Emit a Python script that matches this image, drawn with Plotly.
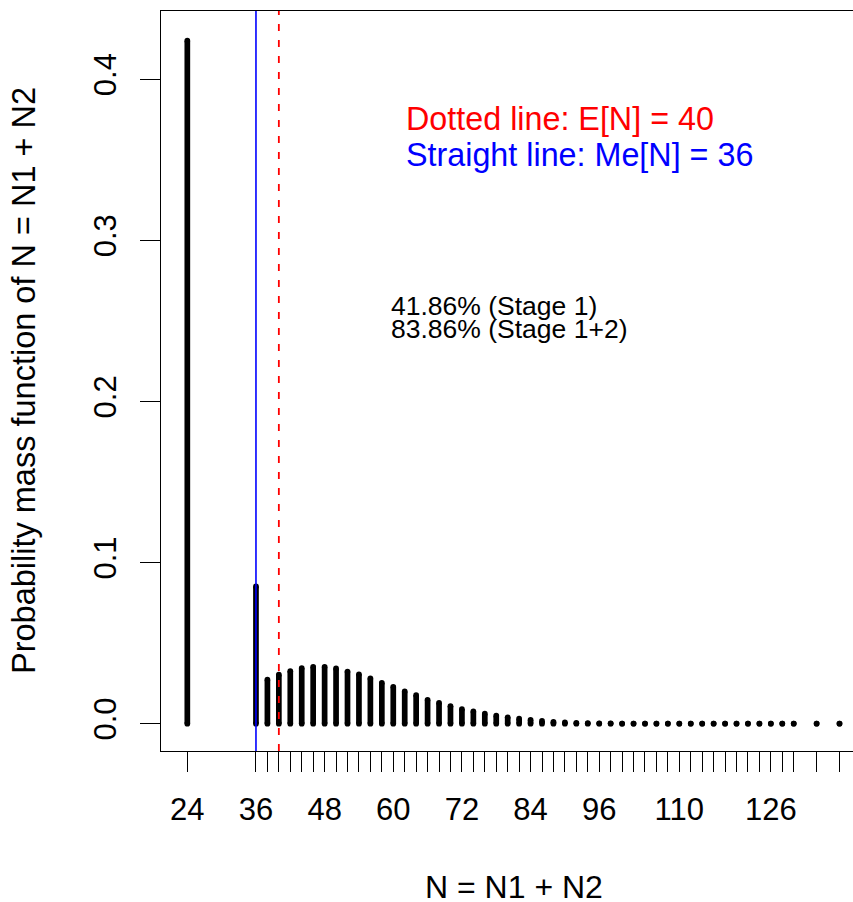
import plotly.graph_objects as go

# Support of N = N1 + N2 and its probability mass function
n_values = [24, 36] + list(range(38, 131, 2)) + [134, 138]
pmf = [0.4240, 0.0852,
       0.0273, 0.0304, 0.0326, 0.0345, 0.0353, 0.0353, 0.0343, 0.0324, 0.0307, 0.0281,
       0.0254, 0.0229, 0.0200, 0.0177, 0.0148, 0.0130, 0.0109, 0.0090, 0.0076, 0.0062,
       0.0050, 0.0040, 0.0031, 0.0024, 0.0017, 0.0012, 0.0008, 0.0005, 0.0003, 0.0002,
       0.0002, 0.0001, 0.0001, 0.0001, 0.0001, 0.0001, 0.0001, 0.0001, 0.0001, 0.0001,
       0.0001, 0.0001, 0.0001, 0.0001, 0.0001, 0.0001, 0.0001, 0.0001]
pmf = pmf[:len(n_values)] + [0.0001] * (len(n_values) - len(pmf))

x_tick_labels = {24: "24", 36: "36", 48: "48", 60: "60", 72: "72", 84: "84",
                 96: "96", 110: "110", 126: "126"}
y_tick_vals = [0.0, 0.1, 0.2, 0.3, 0.4]
y_tick_text = ["0.0", "0.1", "0.2", "0.3", "0.4"]

mean_n = 40
median_n = 36
stage1 = "41.86%"
stage12 = "83.86%"

FONT = "Liberation Sans, Arial, Helvetica, sans-serif"

xs, ys = [], []
for n, p in zip(n_values, pmf):
    xs += [n, n, None]
    ys += [0, p, None]

fig = go.Figure()
fig.add_trace(go.Scatter(
    x=xs, y=ys, mode="lines+markers",
    line=dict(color="black", width=5.7),
    marker=dict(color="black", size=5.7, line=dict(width=0)),
    hoverinfo="skip", showlegend=False))

fig.add_shape(type="line", xref="x", yref="paper", x0=median_n, x1=median_n, y0=0, y1=1,
              line=dict(color="blue", width=1.6))
fig.add_shape(type="line", xref="x", yref="paper", x0=mean_n, x1=mean_n, y0=0, y1=1,
              line=dict(color="red", width=1.8, dash="7px,9px"))

fig.add_annotation(x=61.9, y=0.3751, xref="x", yref="y", xanchor="left", yanchor="middle",
                   text=f"Dotted line: E[N] = {mean_n}", showarrow=False,
                   font=dict(family=FONT, size=32.3, color="red"))
fig.add_annotation(x=61.9, y=0.3530, xref="x", yref="y", xanchor="left", yanchor="middle",
                   text=f"Straight line: Me[N] = {median_n}", showarrow=False,
                   font=dict(family=FONT, size=32.3, color="blue"))
fig.add_annotation(x=59.2, y=0.2593, xref="x", yref="y", xanchor="left", yanchor="middle",
                   text=f"{stage1} (Stage 1)", showarrow=False,
                   font=dict(family=FONT, size=26.5, color="black"))
fig.add_annotation(x=59.2, y=0.2450, xref="x", yref="y", xanchor="left", yanchor="middle",
                   text=f"{stage12} (Stage 1+2)", showarrow=False,
                   font=dict(family=FONT, size=26.5, color="black"))

# axis titles
fig.add_annotation(x=0.5098, y=0, xref="paper", yref="paper", xanchor="center", yanchor="middle",
                   yshift=-136, text="N = N1 + N2", showarrow=False,
                   font=dict(family=FONT, size=32, color="black"))
fig.add_annotation(x=0, y=0.5, xref="paper", yref="paper", xanchor="center", yanchor="middle",
                   xshift=-137, textangle=-90, text="Probability mass function of N = N1 + N2",
                   showarrow=False, font=dict(family=FONT, size=32.5, color="black"))

fig.update_layout(
    width=853, height=902,
    margin=dict(l=161, r=0, t=11, b=151),
    paper_bgcolor="white", plot_bgcolor="white",
    font=dict(family=FONT, size=31, color="black"),
    xaxis=dict(range=[19.40, 140.36], tickmode="array", tickvals=n_values,
               ticktext=[x_tick_labels.get(n, "") for n in n_values],
               ticks="outside", ticklen=20, tickwidth=1.3, tickcolor="black",
               showline=True, linecolor="black", linewidth=1.3, mirror=True,
               showgrid=False, zeroline=False, tickangle=0, ticklabelstandoff=11,
               tickfont=dict(family=FONT, size=31)),
    yaxis=dict(range=[-0.01695, 0.4424], tickmode="array", tickvals=y_tick_vals,
               ticktext=y_tick_text, ticks="outside", ticklen=20, tickwidth=1.3,
               tickcolor="black", showline=True, linecolor="black", linewidth=1.3,
               showgrid=False, zeroline=False, tickangle=-90, ticklabelstandoff=11,
               tickfont=dict(family=FONT, size=31)),
)

fig.write_html("out.html", config={"displayModeBar": False},
               post_script="document.body.style.margin='0px';")
